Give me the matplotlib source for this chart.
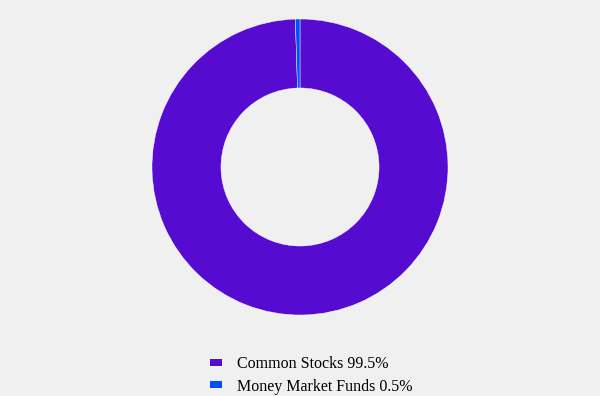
import matplotlib.pyplot as plt
from matplotlib.patches import Patch

labels = ["Common Stocks", "Money Market Funds"]
values = [99.5, 0.5]
colors = ["#560bd0", "#0050ff"]

plt.rcParams["font.family"] = ["Liberation Serif", "DejaVu Serif"]

fig = plt.figure(figsize=(6, 3.96), dpi=100)
fig.patch.set_facecolor("#f0f0f0")

# Donut
ax = fig.add_axes([152 / 600, 81 / 396, 296 / 600, 296 / 396])
ax.pie(values, colors=colors, startangle=90, counterclock=False,
       wedgeprops=dict(width=0.466, edgecolor="white", linewidth=0.3))
ax.set_xlim(-1, 1)
ax.set_ylim(-1, 1)
ax.set_aspect("equal")
ax.axis("off")

handles = [Patch(facecolor=c, edgecolor="none") for c in colors]
leg_labels = [f"{l} {v}%" for l, v in zip(labels, values)]
fig.legend(handles, leg_labels, loc="upper center", bbox_to_anchor=(0.519, 0.137),
           frameon=False, fontsize=11.5, handlelength=0.75, handleheight=0.3,
           handletextpad=0.9, labelspacing=0.4)

fig.savefig("out.png", dpi=100, facecolor=fig.get_facecolor())
